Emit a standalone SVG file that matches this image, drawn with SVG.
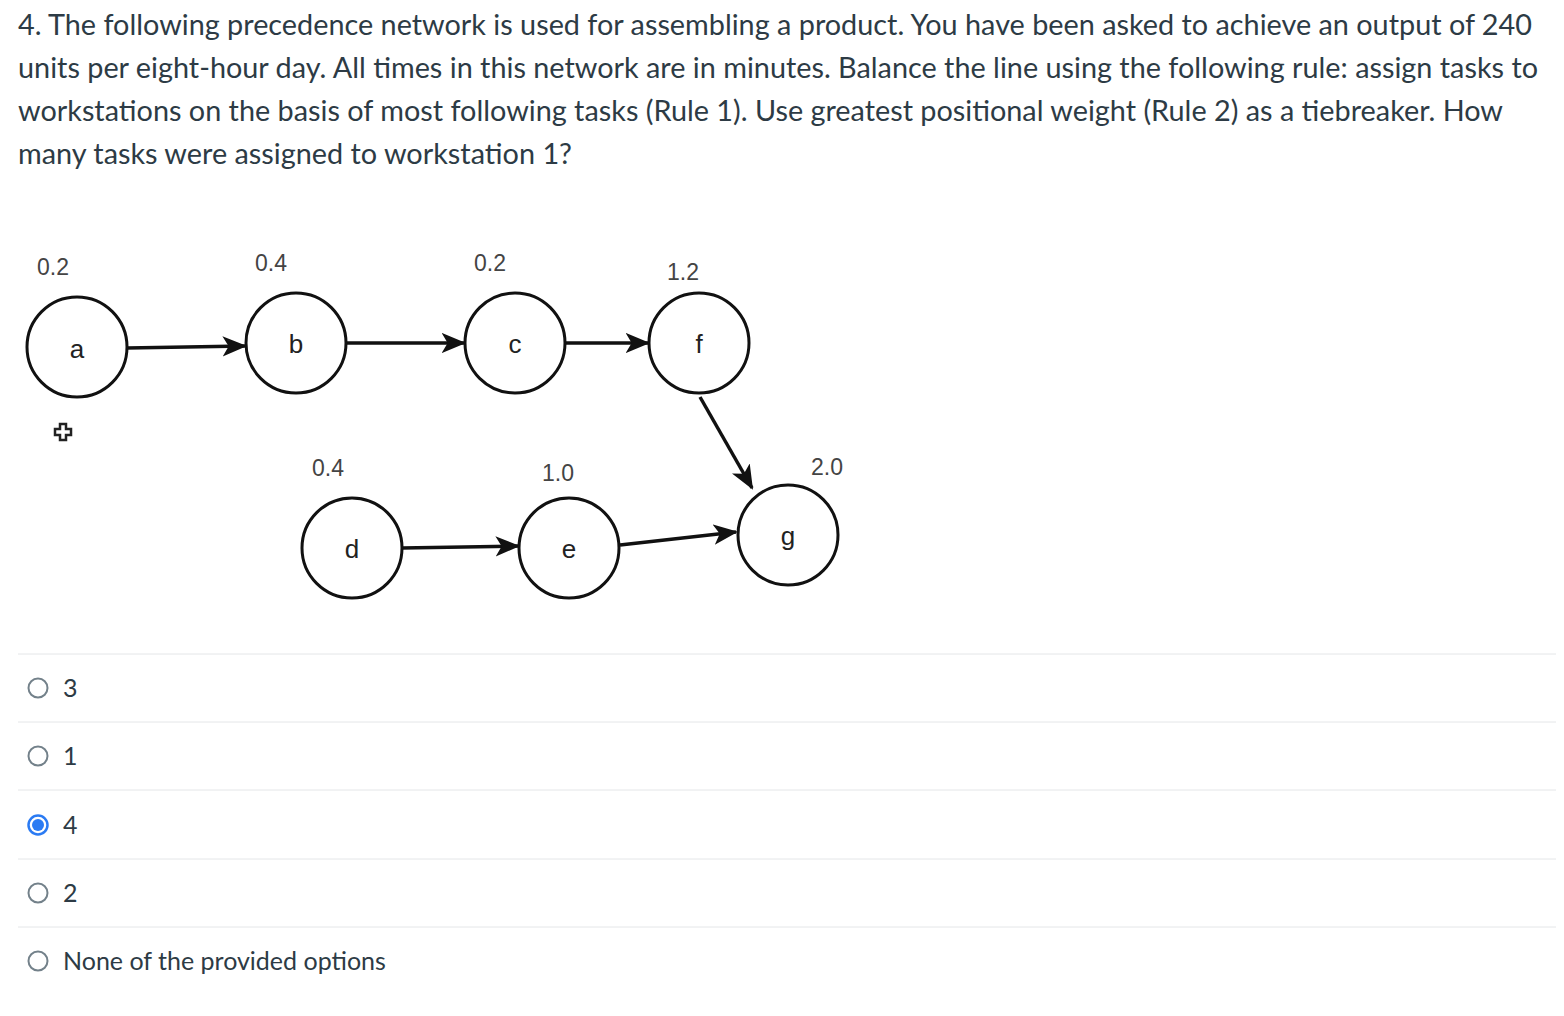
<svg xmlns="http://www.w3.org/2000/svg" width="1564" height="1016" viewBox="0 0 1564 1016">
<style>
.q{font-family:Lato,"Liberation Sans",sans-serif;font-size:28.5px;fill:#2d3b45}
.o{font-family:Lato,"Liberation Sans",sans-serif;font-size:25px;fill:#2d3b45}
.n{fill:#fff;stroke:#111;stroke-width:3}
.l{font-family:"Liberation Sans",Arial,sans-serif;font-size:26px;fill:#222;text-anchor:middle}
.w{font-family:"Liberation Sans",Arial,sans-serif;font-size:23px;fill:#444;text-anchor:middle}
.e{stroke:#111;stroke-width:3.5;fill:none;marker-end:url(#ah)}
.sep{stroke:#e4e6e8;stroke-width:1}
.r{fill:#fff;stroke:#73818a;stroke-width:2}
</style>
<defs><marker id="ah" viewBox="0 0 12 10" refX="11" refY="5" markerWidth="7" markerHeight="6" orient="auto" markerUnits="strokeWidth"><path d="M0,0 L12,5 L0,10 L3,5 z" fill="#111"/></marker></defs>
<rect width="1564" height="1016" fill="#fff"/>
<text class="q" x="18" y="35" textLength="1514" lengthAdjust="spacingAndGlyphs">4. The following precedence network is used for assembling a product. You have been asked to achieve an output of 240</text>
<text class="q" x="18" y="78" textLength="1520" lengthAdjust="spacingAndGlyphs">units per eight-hour day. All times in this network are in minutes. Balance the line using the following rule: assign tasks to</text>
<text class="q" x="18" y="121" textLength="1485" lengthAdjust="spacingAndGlyphs">workstations on the basis of most following tasks (Rule 1). Use greatest positional weight (Rule 2) as a tiebreaker. How</text>
<text class="q" x="18" y="164" textLength="554" lengthAdjust="spacingAndGlyphs">many tasks were assigned to workstation 1?</text>
<g id="connectors">
<line class="e" x1="127" y1="348" x2="245" y2="346"/>
<line class="e" x1="346" y1="343" x2="464" y2="343"/>
<line class="e" x1="565" y1="343" x2="648" y2="343"/>
<line class="e" x1="700" y1="397" x2="752" y2="488"/>
<line class="e" x1="402" y1="548" x2="518" y2="546"/>
<line class="e" x1="620" y1="545" x2="736" y2="532"/>
</g>
<g id="a"><circle class="n" cx="77" cy="347" r="50"/><text class="l" x="77" y="358">a</text><text class="w" x="53" y="275">0.2</text></g>
<g id="b"><circle class="n" cx="296" cy="343" r="50"/><text class="l" x="296" y="353">b</text><text class="w" x="271" y="271">0.4</text></g>
<g id="c"><circle class="n" cx="515" cy="343" r="50"/><text class="l" x="515" y="353">c</text><text class="w" x="490" y="271">0.2</text></g>
<g id="f"><circle class="n" cx="699" cy="343" r="50"/><text class="l" x="699" y="353">f</text><text class="w" x="683" y="280">1.2</text></g>
<g id="d"><circle class="n" cx="352" cy="548" r="50"/><text class="l" x="352" y="558">d</text><text class="w" x="328" y="476">0.4</text></g>
<g id="e"><circle class="n" cx="569" cy="548" r="50"/><text class="l" x="569" y="558">e</text><text class="w" x="558" y="481">1.0</text></g>
<g id="g"><circle class="n" cx="788" cy="535" r="50"/><text class="l" x="788" y="545">g</text><text class="w" x="827" y="475">2.0</text></g>
<path d="M60,424 h6 v5 h5 v6 h-5 v5 h-6 v-5 h-5 v-6 h5 z" fill="#fff" stroke="#222" stroke-width="2.5"/>
<line class="sep" x1="18" y1="654" x2="1556" y2="654"/>
<line class="sep" x1="18" y1="722" x2="1556" y2="722"/>
<line class="sep" x1="18" y1="790" x2="1556" y2="790"/>
<line class="sep" x1="18" y1="859" x2="1556" y2="859"/>
<line class="sep" x1="18" y1="927" x2="1556" y2="927"/>
<circle class="r" cx="38" cy="688" r="9.5"/><text class="o" x="63" y="697">3</text>
<circle class="r" cx="38" cy="756" r="9.5"/><text class="o" x="63" y="765">1</text>
<circle cx="38" cy="825" r="9.5" fill="#fff" stroke="#2b7bf3" stroke-width="2.5"/><circle cx="38" cy="825" r="6" fill="#2b7bf3"/><text class="o" x="63" y="834">4</text>
<circle class="r" cx="38" cy="893" r="9.5"/><text class="o" x="63" y="902">2</text>
<circle class="r" cx="38" cy="961" r="9.5"/><text class="o" x="63" y="970">None of the provided options</text>
</svg>
